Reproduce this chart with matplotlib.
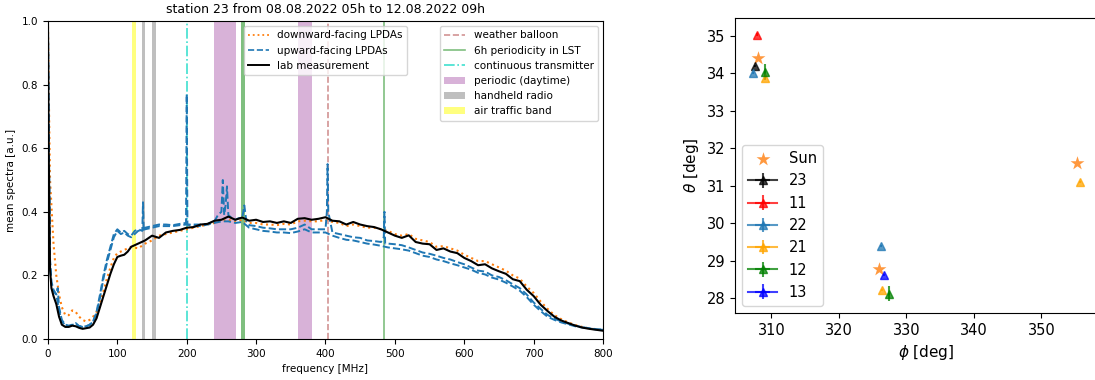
import matplotlib
matplotlib.use("Agg")
import matplotlib.pyplot as plt
from matplotlib.lines import Line2D
from matplotlib.patches import Patch

# ---- spectra (left panel) ----
lab_freq = [0, 1, 3, 5, 8, 12, 16, 20,
            25, 30, 35, 40, 45, 50, 55, 60, 65, 70, 75, 80, 85, 90, 95, 100,
            105, 110, 115, 120,
            130, 140, 150, 160, 170, 180, 190, 200, 210, 220, 230, 240, 250,
            260, 270, 280, 290, 300, 310, 320, 330, 340, 350, 360, 370, 380,
            390, 400, 410, 420, 430, 440, 450, 460, 470, 480, 490, 500, 510,
            520, 530, 540, 550, 560, 570, 580, 590, 600, 610, 620, 630, 640,
            650, 660, 670, 680, 690, 700, 710, 720, 730, 740, 750, 760, 770,
            780, 790, 800]

lab_spec = [1.0, 0.6, 0.22, 0.16, 0.135, 0.11, 0.07, 0.045,
            0.038, 0.038, 0.042, 0.04, 0.035, 0.032, 0.034, 0.036, 0.045, 0.065,
            0.1, 0.135, 0.17, 0.205, 0.235, 0.258,
            0.262, 0.265, 0.275, 0.29,
            0.3, 0.31, 0.325, 0.318, 0.335, 0.34, 0.343, 0.35, 0.352, 0.36,
            0.362, 0.372, 0.375, 0.385, 0.375, 0.382, 0.372, 0.375, 0.368, 0.37,
            0.365, 0.37, 0.365, 0.378, 0.38, 0.375, 0.378, 0.383, 0.372, 0.37,
            0.36, 0.368, 0.36, 0.355, 0.352, 0.345, 0.335, 0.325, 0.318, 0.326,
            0.305, 0.3, 0.298, 0.28, 0.285, 0.275, 0.27, 0.255, 0.245, 0.232,
            0.235, 0.222, 0.213, 0.205, 0.188, 0.182, 0.155, 0.135, 0.108, 0.088,
            0.07, 0.058, 0.05, 0.042, 0.036, 0.032, 0.029, 0.026]

down_spec = [1.0, 0.8, 0.5, 0.42, 0.3, 0.2, 0.14, 0.1,
             0.075, 0.075, 0.09, 0.085, 0.07, 0.06, 0.055, 0.06, 0.07, 0.085,
             0.115, 0.15, 0.19, 0.225, 0.255, 0.27,
             0.275, 0.28, 0.285, 0.29,
             0.285, 0.3, 0.31, 0.325, 0.33, 0.335, 0.34, 0.345, 0.35, 0.355,
             0.36, 0.365, 0.372, 0.375, 0.368, 0.375, 0.365, 0.365, 0.36, 0.36,
             0.358, 0.362, 0.36, 0.37, 0.372, 0.37, 0.37, 0.375, 0.368, 0.365,
             0.355, 0.36, 0.355, 0.35, 0.35, 0.345, 0.34, 0.33, 0.325, 0.33,
             0.315, 0.31, 0.305, 0.29, 0.292, 0.285, 0.278, 0.265, 0.255, 0.245,
             0.245, 0.235, 0.225, 0.215, 0.2, 0.19, 0.165, 0.145, 0.118, 0.095,
             0.075, 0.062, 0.052, 0.044, 0.038, 0.033, 0.03, 0.028]

up2_spec = [1.0, 0.65, 0.24, 0.17, 0.15, 0.14, 0.09, 0.055,
            0.044, 0.04, 0.044, 0.048, 0.04, 0.038, 0.04, 0.044, 0.055, 0.08,
            0.13, 0.19, 0.24, 0.28, 0.32, 0.34,
            0.33, 0.335, 0.325, 0.32,
            0.34, 0.345, 0.35, 0.355, 0.355, 0.355, 0.358, 0.36, 0.355, 0.355,
            0.36, 0.365, 0.37, 0.37, 0.365, 0.368, 0.35, 0.345, 0.34, 0.338,
            0.335, 0.335, 0.333, 0.338, 0.345, 0.335, 0.335, 0.335, 0.325, 0.318,
            0.312, 0.31, 0.305, 0.3, 0.297, 0.293, 0.288, 0.285, 0.282, 0.278,
            0.27, 0.262, 0.258, 0.25, 0.245, 0.238, 0.232, 0.225, 0.218, 0.208,
            0.203, 0.193, 0.187, 0.177, 0.165, 0.152, 0.132, 0.108, 0.088, 0.07,
            0.06, 0.052, 0.046, 0.04, 0.036, 0.033, 0.03, 0.029]

up1_freq = [0, 1, 3, 5, 8, 12, 14, 16, 20, 25, 30, 35, 40, 45, 50, 55, 60, 65,
            70, 75, 80, 85, 90, 95, 100, 105, 110, 115, 120, 125, 130, 136, 137,
            138, 140, 150, 160, 170, 180, 190, 199, 200, 201, 210, 220, 230,
            240, 245, 250, 252, 254, 256, 258, 260, 265, 270, 275, 280, 283,
            286, 290, 300, 310, 320, 330, 340, 350, 360, 370, 380, 390, 400,
            402, 403, 404, 410, 420, 430, 440, 450, 460, 470, 480, 484, 485,
            486, 490, 500, 510, 520, 530, 540, 550, 560, 570, 580, 590, 600,
            610, 620, 630, 640, 650, 660, 670, 680, 690, 700, 710, 720, 730,
            740, 750, 760, 770, 780, 790, 800]

up1_spec = [1.0, 0.7, 0.25, 0.18, 0.155, 0.14, 0.16, 0.1, 0.06, 0.045, 0.042,
            0.045, 0.05, 0.04, 0.04, 0.04, 0.045, 0.055,
            0.085, 0.14, 0.2, 0.25, 0.29, 0.33, 0.345, 0.335, 0.34, 0.33, 0.325,
            0.34, 0.345, 0.34, 0.43,
            0.34, 0.35, 0.355, 0.36, 0.36, 0.358, 0.362, 0.365, 0.77, 0.36,
            0.36, 0.36, 0.362,
            0.37, 0.39, 0.4, 0.5, 0.39, 0.42, 0.48, 0.39, 0.38, 0.375, 0.38,
            0.38, 0.42,
            0.37, 0.358, 0.355, 0.35, 0.348, 0.345, 0.345, 0.345, 0.35, 0.36,
            0.345, 0.345, 0.345,
            0.4, 0.55, 0.4, 0.335, 0.33, 0.325, 0.32, 0.318, 0.31, 0.308, 0.305,
            0.32, 0.4,
            0.3, 0.3, 0.298, 0.295, 0.288, 0.28, 0.272, 0.268, 0.262, 0.255,
            0.25, 0.242, 0.235,
            0.225, 0.215, 0.212, 0.2, 0.195, 0.185, 0.172, 0.16, 0.14, 0.115,
            0.095, 0.076, 0.064,
            0.055, 0.048, 0.042, 0.037, 0.034, 0.031, 0.03]

# RFI markers
balloon_freq = [403]
lst_freq = [484]
lst_band = (278, 283.5)
transmitter_freq = [200]
daytime_bands = [(239, 271), (360, 381)]
handheld_bands = [(135.5, 140), (149.5, 156)]
air_band = (121.5, 126.5)

# ---- direction reconstruction (right panel) ----
sun_phi = [308.0, 325.9, 355.3]
sun_theta = [34.40, 28.78, 31.61]

stations = ["23", "11", "22", "21", "12", "13"]
station_colors = ["black", "red", "tab:blue", "orange", "green", "blue"]
st_phi = [[307.5], [307.9], [307.3, 326.3], [309.05, 326.4, 355.8],
          [309.05, 327.4], [326.7]]
st_theta = [[34.19], [35.03], [34.0, 29.4], [33.87, 28.22, 31.1],
            [34.03, 28.12], [28.62]]
st_phi_err = [[0.05], [0.05], [0.05, 0.05], [0.05, 0.05, 0.05],
              [0.1, 0.15], [0.05]]
st_theta_err = [[0.03], [0.03], [0.03, 0.03], [0.03, 0.03, 0.03],
                [0.22, 0.2], [0.03]]

fig = plt.figure(figsize=(10.95, 3.80), dpi=100)
ax = fig.add_axes([0.0438, 0.1079, 0.5069, 0.8368])
ax2 = fig.add_axes([0.6712, 0.1763, 0.3488, 0.7763])

fs = 7.5
for f in balloon_freq:
    ax.axvline(f, color="brown", alpha=0.5, ls="--", lw=1.2, zorder=1)
ax.axvspan(*lst_band, color="green", alpha=0.5, lw=0, zorder=1)
for f in lst_freq:
    ax.axvline(f, color="green", alpha=0.5, lw=1.2, zorder=1)
for f in transmitter_freq:
    ax.axvline(f, color="turquoise", ls="-.", lw=1.2, zorder=1)
for lo, hi in daytime_bands:
    ax.axvspan(lo, hi, color="purple", alpha=0.3, lw=0, zorder=0.5)
for lo, hi in handheld_bands:
    ax.axvspan(lo, hi, color="gray", alpha=0.5, lw=0, zorder=0.5)
ax.axvspan(*air_band, color="yellow", alpha=0.5, lw=0, zorder=0.5)

ax.plot(lab_freq, down_spec, ":", color="tab:orange", lw=1.5, zorder=2)
ax.plot(up1_freq, up1_spec, "--", color="tab:blue", lw=1.4, zorder=2.1)
ax.plot(lab_freq, up2_spec, "--", color="tab:blue", lw=1.4, zorder=2.1)
ax.plot(lab_freq, lab_spec, "-", color="black", lw=1.5, zorder=2.2)

ax.set_xlim(0, 800)
ax.set_ylim(0, 1)
ax.set_xlabel("frequency [MHz]", fontsize=fs)
ax.set_ylabel("mean spectra [a.u.]", fontsize=fs)
ax.set_title("station 23 from 08.08.2022 05h to 12.08.2022 09h", fontsize=9)
ax.tick_params(labelsize=fs)

h1 = [Line2D([], [], ls=":", color="tab:orange", lw=1.3),
      Line2D([], [], ls="--", color="tab:blue", lw=1.2),
      Line2D([], [], ls="-", color="black", lw=1.4)]
leg1 = ax.legend(h1, ["downward-facing LPDAs", "upward-facing LPDAs", "lab measurement"],
                 loc="upper center", fontsize=fs)
ax.add_artist(leg1)
h2 = [Line2D([], [], ls="--", color="brown", alpha=0.5, lw=1.2),
      Line2D([], [], ls="-", color="green", alpha=0.5, lw=1.2),
      Line2D([], [], ls="-.", color="turquoise", lw=1.2),
      Patch(color="purple", alpha=0.3, lw=0),
      Patch(color="gray", alpha=0.5, lw=0),
      Patch(color="yellow", alpha=0.5, lw=0)]
ax.legend(h2, ["weather balloon", "6h periodicity in LST", "continuous transmitter",
               "periodic (daytime)", "handheld radio", "air traffic band"],
          loc="upper right", fontsize=fs)

# right panel: one errorbar call per point, only the first one labelled
ax2.scatter(sun_phi, sun_theta, marker="*", color="tab:orange", alpha=0.8, s=110,
            lw=0, label="Sun")
for name, c, p, t, pe, te in zip(stations, station_colors, st_phi, st_theta, st_phi_err, st_theta_err):
    for i in range(len(p)):
        ax2.errorbar([p[i]], [t[i]], xerr=[pe[i]], yerr=[te[i]], marker="^", color=c,
                     alpha=0.75, ms=6, label=name if i == 0 else None)

ax2.set_xlim(304.6, 361.2)
ax2.set_ylim(27.61, 35.47)
ax2.set_xticks([310, 320, 330, 340, 350])
ax2.set_xlabel(r"$\phi$ [deg]", fontsize=11)
ax2.set_ylabel(r"$\theta$ [deg]", fontsize=11)
ax2.tick_params(labelsize=10.5)
ax2.legend(loc="lower left", fontsize=10.5)

fig.savefig("out.png", dpi=100)
